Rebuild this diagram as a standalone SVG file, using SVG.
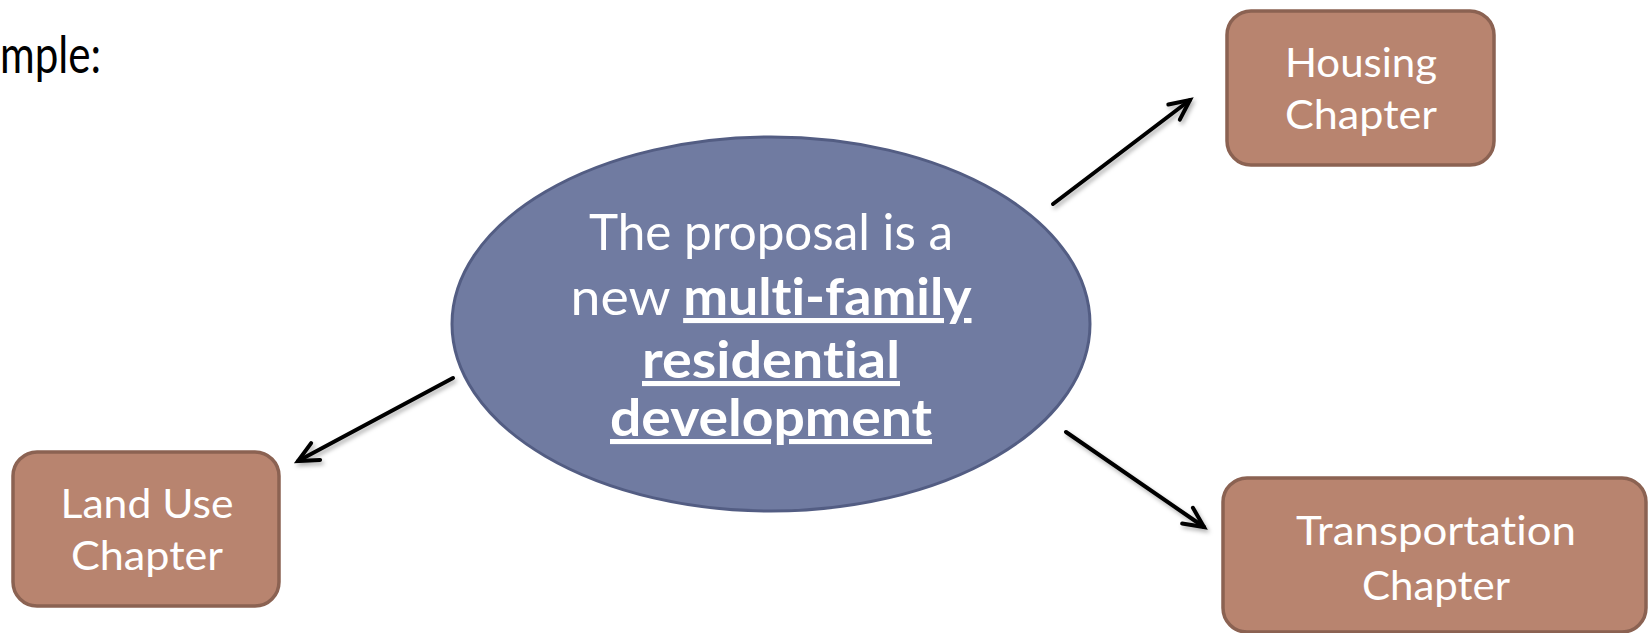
<svg xmlns="http://www.w3.org/2000/svg" width="1648" height="633" viewBox="0 0 1648 633">
<style>
text{font-variant-ligatures:none;font-feature-settings:"liga" 0,"clig" 0,"dlig" 0,"calt" 0}
.box{fill:#b8846f;stroke:#8b6252;stroke-width:3.5}
.ell{fill:#707ba1;stroke:#535d83;stroke-width:3}
.bt{font-family:Lato,"Open Sans","Liberation Sans",sans-serif;font-size:41px;fill:#ffffff;text-anchor:middle}
.et{font-family:Lato,"Open Sans","Liberation Sans",sans-serif;font-size:51px;fill:#ffffff;text-anchor:middle}
.eb{font-weight:bold;text-decoration:underline}
.ttl{font-family:Lato,"Open Sans","Liberation Sans",sans-serif;font-size:52px;fill:#000000}
.conn{stroke:#000000;stroke-width:4;fill:none;stroke-linecap:round}
</style>
<defs>
<marker id="arr" markerUnits="userSpaceOnUse" orient="auto" markerWidth="40" markerHeight="40" refX="0" refY="0" viewBox="-25 -20 30 40" overflow="visible">
<path d="M-20,-9.5 L0,0 L-20,9.5" fill="none" stroke="#000000" stroke-width="4" stroke-linecap="round" stroke-linejoin="miter"/>
</marker>
<filter id="sh" x="-20%" y="-20%" width="140%" height="140%">
<feDropShadow dx="2" dy="3" stdDeviation="2" flood-color="#000000" flood-opacity="0.3"/>
</filter>
</defs>
<rect width="1648" height="633" fill="#ffffff"/>
<text class="ttl" x="0" y="73" textLength="101" lengthAdjust="spacingAndGlyphs">mple:</text>
<g id="connectors" filter="url(#sh)">
<line class="conn" x1="1053" y1="204" x2="1190" y2="100" marker-end="url(#arr)"/>
<line class="conn" x1="453" y1="378" x2="298" y2="461" marker-end="url(#arr)"/>
<line class="conn" x1="1066" y1="432" x2="1204" y2="527" marker-end="url(#arr)"/>
</g>
<g id="center">
<ellipse class="ell" cx="771" cy="324" rx="319" ry="187"/>
<text class="et" x="771" y="250" textLength="364" lengthAdjust="spacingAndGlyphs">The proposal is a</text>
<text class="et" x="771" y="315" textLength="401" lengthAdjust="spacingAndGlyphs">new <tspan class="eb">mult&#x200C;i-family</tspan></text>
<text class="et eb" x="771" y="378" textLength="258" lengthAdjust="spacingAndGlyphs">resident&#x200C;ial</text>
<text class="et eb" x="771" y="436" textLength="322" lengthAdjust="spacingAndGlyphs">development</text>
</g>
<g id="housing">
<rect class="box" x="1227" y="11" width="267" height="154" rx="24"/>
<text class="bt" x="1361" y="77" textLength="152" lengthAdjust="spacingAndGlyphs">Housing</text>
<text class="bt" x="1361" y="129" textLength="152" lengthAdjust="spacingAndGlyphs">Chapter</text>
</g>
<g id="landuse">
<rect class="box" x="13" y="452" width="266" height="154" rx="24"/>
<text class="bt" x="147" y="518" textLength="173" lengthAdjust="spacingAndGlyphs">Land Use</text>
<text class="bt" x="147" y="570" textLength="152" lengthAdjust="spacingAndGlyphs">Chapter</text>
</g>
<g id="transportation">
<rect class="box" x="1223" y="478" width="423" height="154" rx="24"/>
<text class="bt" x="1436" y="545" textLength="280" lengthAdjust="spacingAndGlyphs">Transportat&#x200C;ion</text>
<text class="bt" x="1436" y="600" textLength="148" lengthAdjust="spacingAndGlyphs">Chapter</text>
</g>
</svg>
